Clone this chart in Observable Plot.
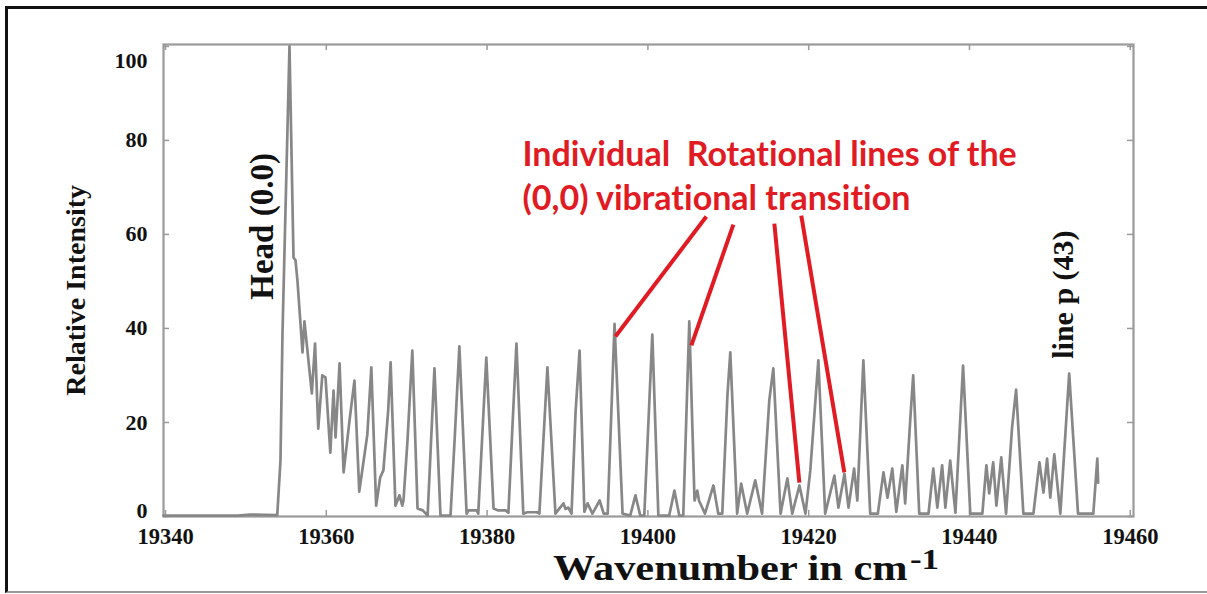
<!DOCTYPE html>
<html><head><meta charset="utf-8">
<script src="https://cdn.jsdelivr.net/npm/d3@7"></script>
<script src="https://cdn.jsdelivr.net/npm/@observablehq/plot@0.6"></script>
<style>
html,body{margin:0;padding:0;background:#fff;}
#wrap{position:relative;width:1207px;height:594px;overflow:hidden;background:#fff;}
#border{position:absolute;left:5px;top:6px;width:1230px;height:587px;border-left:3px solid #111;border-top:3px solid #111;border-bottom:2px solid #999;box-sizing:border-box;pointer-events:none;}
#chart{position:absolute;left:0;top:0;}
svg text{white-space:pre;font-variant-ligatures:none;font-feature-settings:"liga" 0,"clig" 0;}
#xlabel{position:absolute;left:553px;top:551px;font:bold 35px "Liberation Serif",serif;line-height:35px;white-space:nowrap;transform:scaleX(1.21);transform-origin:0 0;color:#111;}
#xlabel sup{font-size:29px;position:relative;top:-9px;vertical-align:top;margin-left:2px;}
</style></head>
<body>
<div id="wrap"><div id="chart"></div><div id="xlabel">Wavenumber in cm<sup>-1</sup></div><div id="border"></div></div>
<script>
// Spectrum trace (wavenumber cm^-1, relative intensity)
const specX = [19339.75,19349.0,19350.5,19353.9,19354.3,19354.55,19354.95,19355.42,19355.92,19356.17,19356.41,19357.04,19357.28,19358.2,19358.6,19359.0,19359.5,19359.9,19360.5,19360.9,19361.15,19361.65,19362.15,19362.9,19363.5,19364.1,19365.1,19365.6,19366.2,19366.7,19367.1,19367.7,19368.0,19368.6,19369.1,19369.45,19369.6,19370.1,19370.7,19371.35,19372.0,19372.6,19373.45,19374.2,19375.45,19375.95,19376.55,19377.45,19377.7,19378.7,19378.9,19379.9,19380.8,19381.4,19382.3,19382.65,19383.15,19383.65,19384.5,19385.0,19386.2,19386.5,19387.5,19388.5,19389.5,19389.75,19390.1,19390.5,19391.0,19391.5,19392.1,19392.5,19393.1,19394.0,19394.5,19395.0,19395.85,19396.85,19397.8,19398.45,19399.05,19399.55,19400.55,19401.3,19402.65,19403.3,19403.9,19404.4,19405.15,19405.8,19406.15,19406.35,19407.1,19408.15,19408.75,19409.25,19409.9,19410.25,19411.1,19411.6,19412.35,19413.35,19414.2,19415.1,19415.6,19416.5,19417.35,19417.95,19418.85,19419.6,19420.2,19421.2,19422.05,19423.2,19423.7,19424.45,19424.95,19425.65,19426.05,19426.8,19427.65,19428.6,19429.3,19429.8,19430.4,19430.9,19431.65,19432.0,19432.65,19433.0,19433.75,19434.9,19435.5,19436.0,19436.6,19437.0,19437.6,19438.25,19439.2,19440.1,19441.6,19442.1,19442.45,19442.95,19443.35,19443.95,19444.55,19445.3,19445.8,19446.7,19447.95,19448.7,19449.2,19449.65,19450.05,19450.55,19451.3,19452.4,19453.5,19455.25,19455.4,19455.9,19456.0];
const specY = [0.2,0.2,0.4,0.3,11.9,38.9,67,100,55.1,54.5,50.2,34.9,41.5,26.2,36.8,18.7,30.0,29.6,13.6,26.8,16.8,32.6,9.4,20.6,28.9,5.3,17.4,31.7,2.3,8.3,9.8,22.6,32.8,2.3,4.5,2.3,3.4,16.2,35.3,1.7,1.3,0.2,31.5,0.2,0.2,16.0,36.2,0.6,1.3,1.3,0.6,33.8,1.7,1.3,1.3,0.8,19.0,36.8,0.6,0.9,0.9,0.6,31.7,0.6,2.8,1.6,1.9,0.6,22.1,35.3,1.0,2.8,0.6,3.4,0.6,0.6,41.0,0.6,0.2,4.5,0.2,0.2,38.7,0.2,0.2,5.5,0.2,0.2,41.5,3.4,5.5,3.4,0.6,6.6,0.6,0.6,26.0,34.9,0.6,7.0,0.6,7.7,0.6,24.7,31.5,0.6,8.1,0.6,6.6,0.6,9.8,33.2,0.6,8.7,1.9,9.1,1.9,10.2,3.4,33.2,0.6,0.6,9.4,4.0,10.2,1.0,10.9,2.8,21.1,30.0,0.6,0.6,10.2,1.9,10.9,1.9,11.9,0.8,32.1,0.6,0.6,10.9,4.9,11.5,2.3,12.6,0.6,19.0,27.0,0.6,0.6,11.5,5.1,12.3,4.0,13.2,0.6,30.4,0.6,0.6,0.6,12.3,7.2];

const xTicks = [19340,19360,19380,19400,19420,19440,19460];
const yTicks = [0,20,40,60,80,100];

// Annotation pointer lines (data coordinates)
const arrowX1 = [19407.27,19410.63,19415.73,19419.08];
const arrowY1 = [63.8,62.1,62.3,64.0];
const arrowX2 = [19395.96,19405.41,19418.84,19424.43];
const arrowY2 = [38.3,36.4,7.2,9.4];

const noteLines = ["Individual  Rotational lines of the","(0,0) vibrational transition"];
const noteY = [74.5,65.1];
const noteX = 19384.4;

const headLabel = {x:19352.06, y:61.7, text:"Head (0.0)"};
const lineLabel = {x:19451.7, y:47.2, text:"line p (43)"};

const spectrum = specX.map((x,i)=>({x, y:specY[i]}));
const arrows = arrowX1.map((x1,i)=>({x1, y1:arrowY1[i], x2:arrowX2[i], y2:arrowY2[i]}));
const notes = noteLines.map((t,i)=>({t, y:noteY[i]}));

const xDom = [19339.75,19460.4];
const yDom = [0,100.4];
const serif = "Liberation Serif, Times New Roman, serif";
const axisGray = "#9a9a9a";

const chart = Plot.plot({
  width:1207, height:594,
  marginLeft:163, marginRight:74, marginTop:44, marginBottom:78,
  style:{background:"transparent", fontFamily:serif},
  x:{domain:xDom, axis:null},
  y:{domain:yDom, axis:null},
  marks:[
    Plot.frame({stroke:axisGray, strokeWidth:2.2}),
    // inward ticks
    Plot.ruleX(xTicks,{x:d=>d, y1:0, y2:1.3, stroke:axisGray, strokeWidth:1.5}),
    Plot.ruleX(xTicks,{x:d=>d, y1:99.1, y2:100.4, stroke:axisGray, strokeWidth:1.5}),
    Plot.ruleY(yTicks,{y:d=>d, x1:xDom[0], x2:xDom[0]+0.75, stroke:axisGray, strokeWidth:1.5}),
    Plot.ruleY(yTicks,{y:d=>d, x1:xDom[1]-0.75, x2:xDom[1], stroke:axisGray, strokeWidth:1.5}),
    // tick labels
    Plot.text(xTicks,{x:d=>d, frameAnchor:"bottom", dy:12, lineAnchor:"top", text:d=>String(d), fontSize:22.5, fontWeight:"bold", fill:"#111"}),
    Plot.text(yTicks.filter(d=>d>0 && d<100),{y:d=>d, frameAnchor:"left", dx:-16, textAnchor:"end", text:d=>String(d), fontSize:22, fontWeight:"bold", fill:"#111"}),
    Plot.text([0],{y:d=>d, frameAnchor:"left", dx:-16, dy:-6, textAnchor:"end", text:d=>String(d), fontSize:22, fontWeight:"bold", fill:"#111"}),
    Plot.text([100],{y:d=>d, frameAnchor:"left", dx:-16, dy:15, textAnchor:"end", text:d=>String(d), fontSize:22, fontWeight:"bold", fill:"#111"}),
    // y axis title
    Plot.text(["Relative Intensity"],{y:48.1, frameAnchor:"left", dx:-79, rotate:-90, textAnchor:"middle", lineAnchor:"bottom", text:d=>d, fontSize:28, fontWeight:"bold", fill:"#111"}),
    // spectrum
    Plot.line(spectrum,{x:"x", y:"y", stroke:"#878787", strokeWidth:2.7, strokeLinejoin:"round"}),
    // rotated labels
    Plot.text([headLabel],{x:"x", y:"y", text:"text", rotate:-90, textAnchor:"middle", lineAnchor:"middle", fontSize:33, fontWeight:"bold", fill:"#111"}),
    Plot.text([lineLabel],{x:"x", y:"y", text:"text", rotate:-90, textAnchor:"middle", lineAnchor:"middle", fontSize:30, fontWeight:"bold", fill:"#111"}),
    // red annotation
    Plot.link(arrows,{x1:"x1", y1:"y1", x2:"x2", y2:"y2", stroke:"#e01b24", strokeWidth:4}),
    Plot.text(notes,{x:noteX, y:"y", text:"t", textAnchor:"start", lineAnchor:"bottom", fontSize:34, fontWeight:"bold", fontFamily:"Lato, sans-serif", fill:"#e01b24"})
  ]
});
document.getElementById("chart").appendChild(chart);
</script>
</body></html>
